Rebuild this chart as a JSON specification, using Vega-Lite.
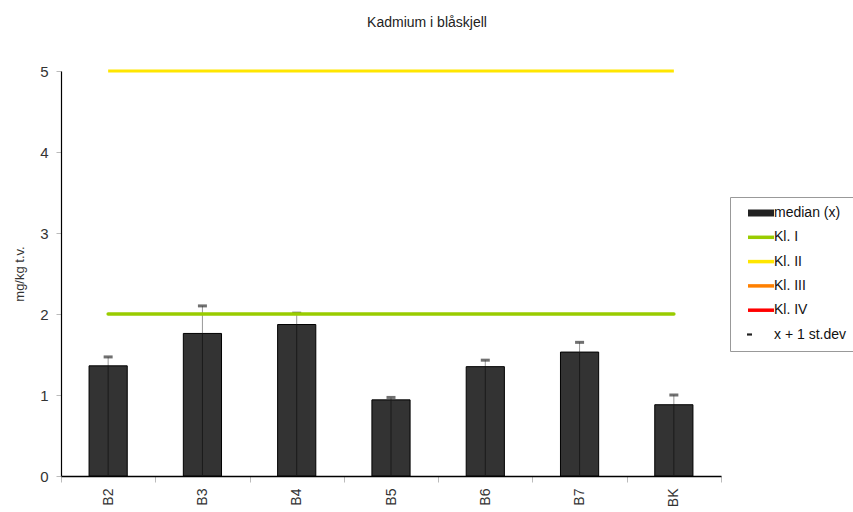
{
  "$schema": "https://vega.github.io/schema/vega-lite/v6.json",
  "autosize": "none",
  "width": 660,
  "height": 405,
  "padding": {"left": 61, "top": 71, "right": 132, "bottom": 36},
  "background": "white",
  "title": {"text": "Kadmium i blåskjell", "fontSize": 14, "font": "Liberation Sans", "fontWeight": "normal", "color": "#222", "dx": 36, "offset": 34},
  "config": {
    "font": "Liberation Sans",
    "view": {"stroke": null},
    "axis": {"labelFont": "Liberation Sans", "titleFont": "Liberation Sans", "grid": false, "labelFontWeight": "normal"}
  },
  "datasets": {
    "sites": [
      {"site": "B2", "median": 1.36, "sd": 1.47, "kl1": 2, "kl2": 5},
      {"site": "B3", "median": 1.76, "sd": 2.10, "kl1": 2, "kl2": 5},
      {"site": "B4", "median": 1.87, "sd": 2.01, "kl1": 2, "kl2": 5},
      {"site": "B5", "median": 0.94, "sd": 0.97, "kl1": 2, "kl2": 5},
      {"site": "B6", "median": 1.35, "sd": 1.43, "kl1": 2, "kl2": 5},
      {"site": "B7", "median": 1.53, "sd": 1.65, "kl1": 2, "kl2": 5},
      {"site": "BK", "median": 0.88, "sd": 1.00, "kl1": 2, "kl2": 5}
    ],
    "legend": [
      {"item": "median (x)"},
      {"item": "Kl. I"},
      {"item": "Kl. II"},
      {"item": "Kl. III"},
      {"item": "Kl. IV"},
      {"item": "x + 1 st.dev"}
    ]
  },
  "layer": [
    {
      "data": {"name": "sites"},
      "mark": {"type": "rule", "color": "#999", "strokeWidth": 1},
      "encoding": {
        "x": {
          "field": "site", "type": "nominal", "sort": null,
          "scale": {"paddingInner": 0, "paddingOuter": 0},
          "axis": {"title": null, "labelAngle": -90, "labelFontSize": 14, "labelColor": "#333", "labelPadding": 6, "domainColor": "#000", "domainWidth": 1.5, "tickColor": "#bbb", "tickBand": "extent", "tickSize": 6}
        },
        "y": {"field": "median", "type": "quantitative", "scale": {"domain": [0, 5], "nice": false},
          "axis": {"title": "mg/kg t.v.", "titleFontSize": 13, "titleFontWeight": "normal", "titleColor": "#333", "titlePadding": 13, "values": [0, 1, 2, 3, 4, 5], "format": "d", "labelFontSize": 15, "labelColor": "#333", "labelPadding": 8, "domainColor": "#000", "domainWidth": 1.2, "tickColor": "#bbb", "tickSize": 5}},
        "y2": {"field": "sd"}
      }
    },
    {
      "data": {"name": "sites"},
      "mark": {"type": "bar", "fill": "#333333", "stroke": "#000", "strokeWidth": 1, "width": {"band": 0.405}},
      "encoding": {
        "x": {"field": "site", "type": "nominal", "sort": null},
        "y": {"field": "median", "type": "quantitative"}
      }
    },
    {
      "data": {"name": "sites"},
      "mark": {"type": "rule", "color": "#1a1a1a", "strokeWidth": 1},
      "encoding": {
        "x": {"field": "site", "type": "nominal", "sort": null},
        "y": {"field": "median", "type": "quantitative"},
        "y2": {"datum": 0}
      }
    },
    {
      "data": {"name": "sites"},
      "mark": {"type": "tick", "color": "#333", "orient": "horizontal", "size": 9, "thickness": 3},
      "encoding": {
        "x": {"field": "site", "type": "nominal", "sort": null},
        "y": {"field": "sd", "type": "quantitative"}
      }
    },
    {
      "data": {"name": "sites"},
      "mark": {"type": "line", "color": "#99CC00", "strokeWidth": 3.5, "strokeCap": "round"},
      "encoding": {
        "x": {"field": "site", "type": "nominal", "sort": null},
        "y": {"field": "kl1", "type": "quantitative"}
      }
    },
    {
      "data": {"name": "sites"},
      "mark": {"type": "line", "color": "#FFE600", "strokeWidth": 3, "strokeCap": "butt"},
      "encoding": {
        "x": {"field": "site", "type": "nominal", "sort": null},
        "y": {"field": "kl2", "type": "quantitative"}
      }
    },
    {
      "data": {"name": "legend"},
      "mark": {"type": "point", "opacity": 0, "filled": true},
      "encoding": {
        "x": {"datum": "B2", "type": "nominal"},
        "y": {"datum": 0, "type": "quantitative"},
        "color": {
          "field": "item", "type": "nominal", "sort": null,
          "scale": {"domain": ["median (x)", "Kl. I", "Kl. II", "Kl. III", "Kl. IV", "x + 1 st.dev"],
                    "range": ["#222222", "#99CC00", "#FFE600", "#FF8000", "#FF0000", "#222222"]},
          "legend": {
            "title": null, "orient": "none", "legendX": 669, "legendY": 126,
            "strokeColor": "#999", "padding": 9, "symbolOpacity": 1, "symbolSize": 100,
            "labelFontSize": 14, "labelColor": "#111", "labelOffset": 21, "rowPadding": 10.3,
            "symbolStrokeWidth": 0, "labelLimit": 200
          }
        },
        "shape": {
          "field": "item", "type": "nominal", "sort": null,
          "scale": {"domain": ["median (x)", "Kl. I", "Kl. II", "Kl. III", "Kl. IV", "x + 1 st.dev"],
                    "range": ["M0.4,-0.7H5.6V0.7H0.4Z", "M0.4,-0.35H5.6V0.35H0.4Z", "M0.4,-0.35H5.6V0.35H0.4Z", "M0.4,-0.35H5.6V0.35H0.4Z", "M0.4,-0.35H5.6V0.35H0.4Z", "M0.2,-0.22H1.2V0.22H0.2Z"]},
          "legend": null
        }
      }
    }
  ]
}
